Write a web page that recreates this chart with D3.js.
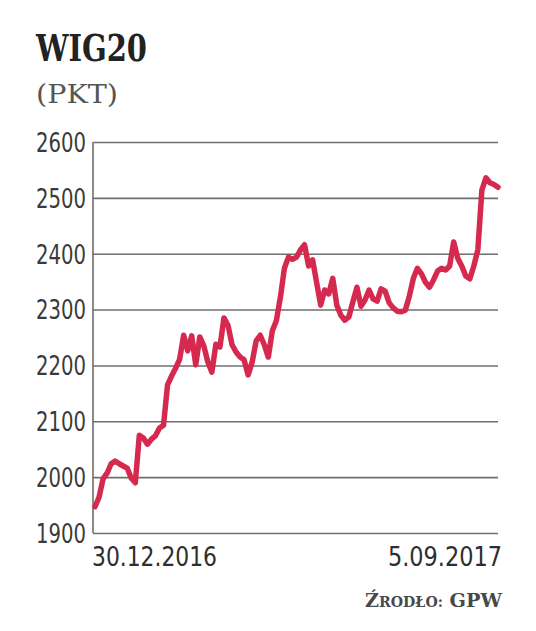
<!DOCTYPE html>
<html><head><meta charset="utf-8">
<script src="https://cdn.jsdelivr.net/npm/d3@7/dist/d3.min.js"></script>
<style>
html,body{margin:0;padding:0;background:#fff;}
svg{display:block;}
</style></head>
<body>
<svg id="chart" width="536" height="631"></svg>
<script>
const title = "WIG20";
const unit = "(PKT)";
const yTicks = [1900, 2000, 2100, 2200, 2300, 2400, 2500, 2600];
const dateLabels = ["30.12.2016", "5.09.2017"];
const source = ["Ź", "RODŁO:", " GPW"];
const values = [
 1947,1964,1997,2007,2024,2029,2024,2020,2016,1998,
 1990,2075,2070,2059,2068,2074,2088,2093,2165,2181,
 2195,2211,2254,2226,2253,2201,2251,2235,2206,2188,
 2238,2233,2285,2272,2237,2224,2215,2210,2183,2206,
 2244,2254,2237,2215,2262,2280,2322,2374,2394,2390,
 2394,2407,2416,2378,2389,2348,2308,2335,2328,2356,
 2308,2290,2281,2287,2314,2340,2306,2317,2335,2319,
 2315,2337,2333,2312,2303,2297,2296,2299,2324,2356,
 2374,2364,2349,2340,2353,2369,2374,2371,2378,2421,
 2392,2378,2360,2355,2378,2407,2514,2536,2527,2524,2519
];

const svg = d3.select("#chart");
const plot = {left: 93, right: 498, top: 142, bottom: 533};
const x = d3.scaleLinear().domain([0, values.length - 1]).range([95, 498]);
const y = d3.scaleLinear().domain([1900, 2600]).range([plot.bottom, plot.top]);
const sansNarrow = "'DejaVu Sans Condensed', 'DejaVu Sans', sans-serif";

// title
svg.append("text").attr("x", 36).attr("y", 61)
  .attr("font-family", "'DejaVu Serif', serif").attr("font-weight", "bold")
  .attr("font-size", 38).attr("fill", "#222")
  .attr("textLength", 111).attr("lengthAdjust", "spacingAndGlyphs")
  .text(title);
svg.append("text").attr("x", 36).attr("y", 103)
  .attr("font-family", "'DejaVu Serif', serif")
  .attr("font-size", 26).attr("fill", "#555")
  .attr("textLength", 82).attr("lengthAdjust", "spacingAndGlyphs")
  .text(unit);

// grid
const yAxis = d3.axisLeft(y).tickValues(yTicks).tickSize(-(plot.right - plot.left)).tickPadding(7).tickFormat(d3.format("d"));
const g = svg.append("g").attr("transform", `translate(${plot.left},0)`).call(yAxis);
g.select(".domain").remove();
g.selectAll(".tick line").attr("stroke", "#6f6f6f").attr("stroke-width", 1.6);
g.selectAll(".tick text")
  .attr("font-family", sansNarrow)
  .attr("font-size", 26).attr("fill", "#3a3a3a").attr("x", -7).attr("dy", "0.36em")
  .attr("textLength", 50).attr("lengthAdjust", "spacingAndGlyphs");
svg.append("line").attr("x1", plot.left).attr("x2", plot.left)
  .attr("y1", plot.top).attr("y2", plot.bottom)
  .attr("stroke", "#6f6f6f").attr("stroke-width", 1.6);

// line
const line = d3.line().x((d, i) => x(i)).y(d => y(d)).curve(d3.curveLinear);
svg.append("path").datum(values).attr("d", line)
  .attr("fill", "none").attr("stroke", "#d6294f").attr("stroke-width", 5.5)
  .attr("stroke-linejoin", "round").attr("stroke-linecap", "round");

// date labels
const dl = svg.append("g")
  .attr("font-family", sansNarrow)
  .attr("font-size", 26).attr("fill", "#2e2e2e");
dl.append("text").attr("x", 92).attr("y", 566)
  .attr("textLength", 125).attr("lengthAdjust", "spacingAndGlyphs").text(dateLabels[0]);
dl.append("text").attr("x", 388).attr("y", 566)
  .attr("textLength", 114).attr("lengthAdjust", "spacingAndGlyphs").text(dateLabels[1]);

// source
const st = svg.append("text").attr("x", 365).attr("y", 607)
  .attr("font-family", "'DejaVu Serif', serif").attr("font-weight", "bold").attr("fill", "#484848")
  .attr("textLength", 137).attr("lengthAdjust", "spacingAndGlyphs");
st.append("tspan").attr("font-size", 19).text(source[0]);
st.append("tspan").attr("font-size", 14).text(source[1]);
st.append("tspan").attr("font-size", 19).text(source[2]);
</script>
</body></html>
